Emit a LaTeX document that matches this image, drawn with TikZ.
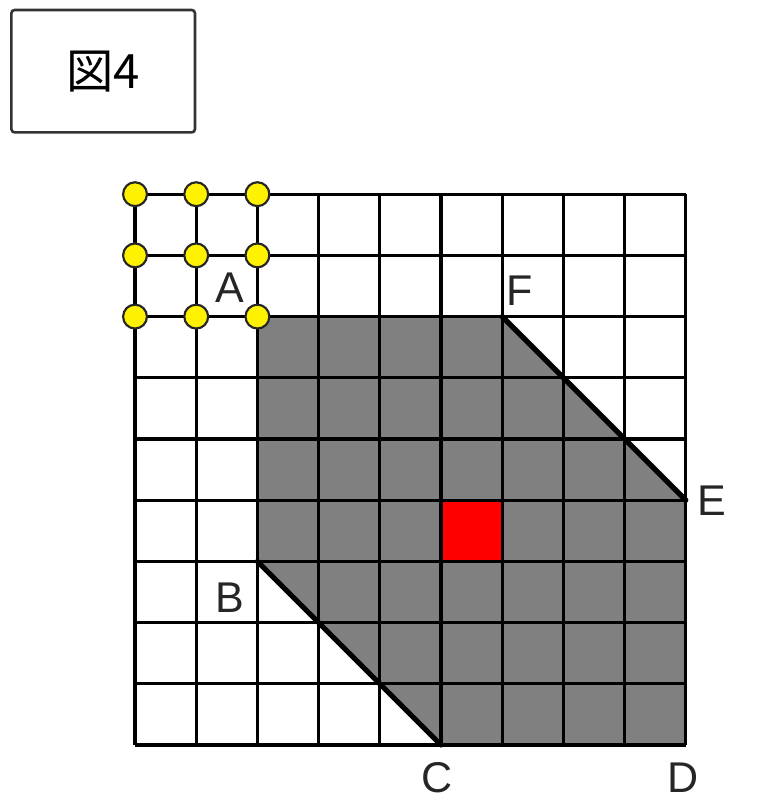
\documentclass[tikz,border=0pt]{standalone}
\usepackage{fontspec}
\setmainfont{Liberation Sans}
\newfontfamily\jpfont{Noto Sans CJK JP}
\usepackage{xcolor}
\usetikzlibrary{positioning,calc}

\begin{document}
\begin{tikzpicture}[
    gridline/.style={line width=1.5pt,draw=black},
    edgeline/.style={line width=2.4pt,draw=black,line cap=round},
    shaded/.style={fill=black!50},
    redcell/.style={fill=red},
    dot/.style={circle,draw=black!85,line width=1pt,fill=yellow,
      minimum size=0.39cm,inner sep=0pt},
    titlebox/.style={draw=black!80,line width=1.2pt,rounded corners=1.5pt,
      minimum width=3cm,minimum height=2cm,font=\jpfont\fontsize{22}{26}\selectfont},
    vlabel/.style={font=\fontsize{20}{24}\selectfont,text=black!85}
  ]
    \useasboundingbox (-2.206,-1.078) rectangle (10.147,12.173);
    % corners of the shaded region
    \coordinate (A) at (2,7);
    \coordinate (F) at (6,7);
    \coordinate (E) at (9,4);
    \coordinate (D) at (9,0);
    \coordinate (C) at (5,0);
    \coordinate (B) at (2,3);
    \fill[shaded] (A) -- (F) -- (E) -- (D) -- (C) -- (B) -- cycle;
    \fill[redcell] (5,3) rectangle (6,4);
    % grid
    \foreach \i in {0,...,9} {
      \draw[gridline] (\i,0) -- (\i,9);
      \draw[gridline] (0,\i) -- (9,\i);
    }
    \draw[edgeline] (F) -- (E);
    \draw[edgeline] (B) -- (C);
    % yellow lattice points
    \foreach \x in {0,1,2}
      \foreach \y in {7,8,9}
        \node[dot] (p\x\y) at (\x,\y) {};
    \node[titlebox] (title) at (-0.52,11.01) {図4};
    \node[vlabel] (lA) at (1.55,7.47) {A};
    \node[vlabel] (lF) at (6.29,7.43) {F};
    \node[vlabel] (lE) at (9.43,4.0) {E};
    \node[vlabel] (lB) at (1.55,2.40) {B};
    \node[vlabel] (lC) at (4.93,-0.54) {C};
    \node[vlabel] (lD) at (8.95,-0.54) {D};
  \end{tikzpicture}
\end{document}
